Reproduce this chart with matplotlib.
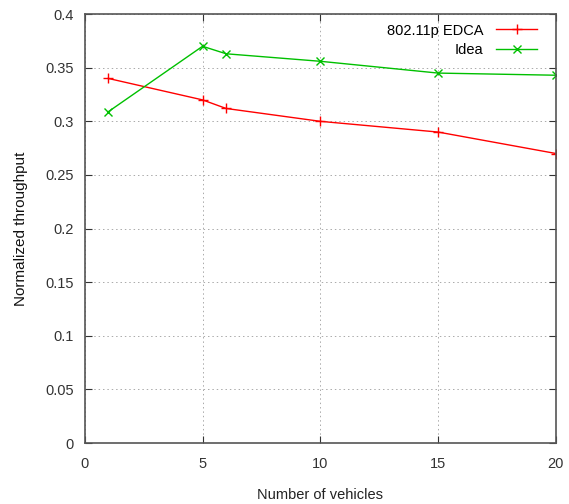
import matplotlib
matplotlib.use('Agg')
import matplotlib.pyplot as plt

x_edca = [1, 5, 6, 10, 15, 20]
y_edca = [0.340, 0.320, 0.312, 0.300, 0.290, 0.270]
x_idea = [1, 5, 6, 10, 15, 20]
y_idea = [0.309, 0.370, 0.363, 0.356, 0.345, 0.343]
xticks = [0, 5, 10, 15, 20]
yticks = [0, 0.05, 0.1, 0.15, 0.2, 0.25, 0.3, 0.35, 0.4]
ytick_labels = ['0', '0.05', '0.1', '0.15', '0.2', '0.25', '0.3', '0.35', '0.4']

plt.rcParams['font.family'] = 'Liberation Sans'
plt.rcParams['font.size'] = 10.5

fig = plt.figure(figsize=(5.69, 5.04), dpi=100)
ax = fig.add_axes([0.149, 0.121, 0.828, 0.851])

ax.plot(x_edca, y_edca, color='#ff0000', marker='+', markersize=7, linewidth=1, label='802.11p EDCA')
ax.plot(x_idea, y_idea, color='#00c000', marker='x', markersize=6, linewidth=1, label='Idea')

ax.set_xlim(0, 20)
ax.set_ylim(0, 0.4)
ax.set_xticks(xticks)
ax.set_yticks(yticks)
ax.set_yticklabels(ytick_labels)
ax.tick_params(direction='in', top=True, right=True, length=5, colors='#333333', labelcolor='#333333')
ax.tick_params(axis='x', pad=10)
ax.tick_params(axis='y', pad=8)
ax.grid(True, linestyle=(0, (1.5, 3)), color='#aaaaaa', linewidth=0.7)
for s in ax.spines.values():
    s.set_color('#555555')
    s.set_linewidth(1.2)

ax.set_xlabel('Number of vehicles', labelpad=12, color='#222222')
ax.set_ylabel('Normalized throughput', labelpad=12, color='#111111', fontsize=11)

ax.legend(loc='upper right', bbox_to_anchor=(0.98, 1.0), frameon=False, markerfirst=False,
          handlelength=2.8, handletextpad=0.9, borderaxespad=0.25, labelspacing=0.4, fontsize=10.5)

fig.savefig('out.png', dpi=100)
